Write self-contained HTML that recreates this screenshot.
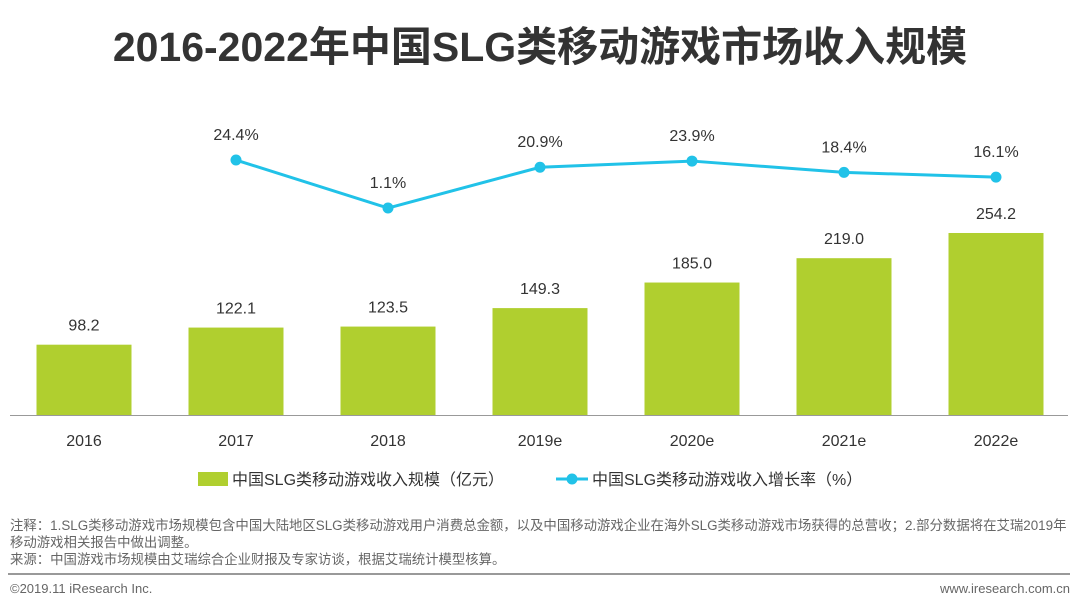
<!DOCTYPE html>
<html><head><meta charset="utf-8">
<style>
body{margin:0;width:1080px;height:609px;background:#fff;overflow:hidden;font-family:"Liberation Sans","Noto Sans CJK SC",sans-serif;}
.t{position:absolute;white-space:nowrap;}
</style></head>
<body>
<div class="t" style="left:0;width:1080px;top:13px;text-align:center;font-size:41px;font-weight:bold;color:#333;">2016-2022年中国SLG类移动游戏市场收入规模</div>
<svg id="chart" width="1080" height="500" style="position:absolute;left:0;top:0"></svg>
<div class="t" style="left:10px;top:517px;font-size:13.4px;color:#666;line-height:17px;">注释：1.SLG类移动游戏市场规模包含中国大陆地区SLG类移动游戏用户消费总金额，以及中国移动游戏企业在海外SLG类移动游戏市场获得的总营收；2.部分数据将在艾瑞2019年<br>移动游戏相关报告中做出调整。<br>来源：中国游戏市场规模由艾瑞综合企业财报及专家访谈，根据艾瑞统计模型核算。</div>
<div style="position:absolute;left:8px;top:573px;width:1062px;height:2px;background:#999;"></div>
<div class="t" style="left:10px;top:581px;font-size:13px;color:#666;">©2019.11 iResearch Inc.</div>
<div class="t" style="right:10px;top:581px;font-size:13px;color:#666;">www.iresearch.com.cn</div>
<script>
const categories=["2016","2017","2018","2019e","2020e","2021e","2022e"];
const revenue=[98.2,122.1,123.5,149.3,185.0,219.0,254.2];
const growth=[null,24.4,1.1,20.9,23.9,18.4,16.1];
const revLabels=["98.2","122.1","123.5","149.3","185.0","219.0","254.2"];
const growthLabels=["","24.4%","1.1%","20.9%","23.9%","18.4%","16.1%"];
const svg=document.getElementById('chart');const NS='http://www.w3.org/2000/svg';
function mk(tag,attrs,txt){const e=document.createElementNS(NS,tag);for(const k in attrs)e.setAttribute(k,attrs[k]);if(txt!==undefined)e.textContent=txt;svg.appendChild(e);return e;}
const base=415;
const xC=i=>84+i*152;
const yB=v=>base-v*0.716;
const yL=v=>210.3-v*2.06;
revenue.forEach((v,i)=>{
 const r=mk('rect',{x:xC(i)-47.5,y:yB(v),width:95,height:base-yB(v),fill:'#b0cf2f'});
 
 
 const t=mk('text',{x:xC(i),y:yB(v)-14,'text-anchor':'middle','font-size':16,fill:'#333'},revLabels[i]);
 
 
 const c=mk('text',{x:xC(i),y:446,'text-anchor':'middle','font-size':16,fill:'#333'},categories[i]);
 
 
});
const ax=mk('line',{x1:10,x2:1068,y1:base+0.5,y2:base+0.5,stroke:'#999','stroke-width':1});


let pts=[];growth.forEach((v,i)=>{if(v!==null)pts.push(xC(i)+','+yL(v));});
const pl=mk('polyline',{points:pts.join(' '),fill:'none',stroke:'#21c2e8','stroke-width':3});


growth.forEach((v,i)=>{if(v===null)return;
 const c=mk('circle',{cx:xC(i),cy:yL(v),r:5.5,fill:'#21c2e8'});
 
 
 const t=mk('text',{x:xC(i),y:yL(v)-20,'text-anchor':'middle','font-size':16,fill:'#333'},growthLabels[i]);
 
 
});
const l1=mk('rect',{x:198,y:472,width:30,height:14,fill:'#b0cf2f'});


const l1t=mk('text',{x:232,y:485,'font-size':16,fill:'#333'},'中国SLG类移动游戏收入规模（亿元）');


const l2=mk('line',{x1:556,x2:588,y1:479,y2:479,stroke:'#21c2e8','stroke-width':3});


const l2c=mk('circle',{cx:572,cy:479,r:5.5,fill:'#21c2e8'});


const l2t=mk('text',{x:592,y:485,'font-size':16,fill:'#333'},'中国SLG类移动游戏收入增长率（%）');


</script>
</body></html>
